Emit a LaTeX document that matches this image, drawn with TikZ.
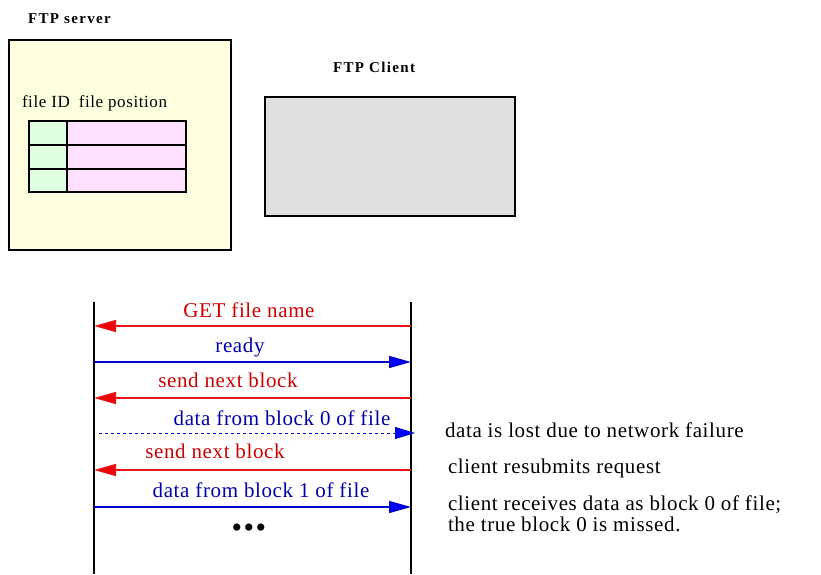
\documentclass[tikz,border=0pt]{standalone}
\usepackage{fontspec}
\setmainfont{Liberation Serif}
\usepackage{xcolor}
\usetikzlibrary{arrows.meta,positioning}

\begin{document}
\begin{tikzpicture}[
    x=1pt, y=-1pt,
    every node/.style={
        inner sep=0pt,
        outer sep=0pt
    },
    hostbox/.style={
        draw,
        rectangle,
        line width=2pt,
        anchor=north west
    },
    cell/.style={
        draw,
        rectangle,
        line width=2pt,
        minimum height=24pt,
        anchor=north west
    },
    hosttitle/.style={font=\fontsize{15}{18}\selectfont\bfseries\addfontfeatures{LetterSpace=9},
        anchor=base west},
    colhead/.style={font=\fontsize{17}{20}\selectfont\addfontfeatures{LetterSpace=3.5},
        anchor=base west},
    msg/.style={font=\fontsize{21}{24}\selectfont\addfontfeatures{LetterSpace=3}, anchor=base},
    note/.style={font=\fontsize{21}{21.5}\selectfont\addfontfeatures{LetterSpace=3},
        align=left},
    lifeline/.style={line width=2pt},
    reqarrow/.style={line width=1.5pt, draw=reqline,
        -{Triangle[length=22pt,width=12pt,fill=reqhead]}},
    dataarrow/.style={line width=1.5pt, draw=dataline,
        -{Triangle[length=22pt,width=12pt,fill=datahead]}},
    lostarrow/.style={line width=0.8pt, draw=dataline, dash pattern=on 3pt off 3pt,
        -{Triangle[length=20pt,width=12pt,fill=datahead]}}
]

%--- Color Definitions ---%
\definecolor{serverfill}{RGB}{255,255,224}
\definecolor{clientfill}{RGB}{224,224,224}
\definecolor{idfill}{RGB}{224,255,224}
\definecolor{posfill}{RGB}{255,224,255}
\definecolor{reqline}{RGB}{230,20,20}
\definecolor{reqhead}{RGB}{240,0,0}
\definecolor{reqtext}{RGB}{204,0,0}
\definecolor{dataline}{RGB}{0,0,200}
\definecolor{datahead}{RGB}{0,0,255}
\definecolor{datatext}{RGB}{0,0,170}

\useasboundingbox (0,0) rectangle (821,574);

%-----------------------------------------------
% HOSTS
%-----------------------------------------------
\node[hostbox, fill=serverfill, minimum width=222pt, minimum height=210pt]
    (server) at (9,40) {};
\node[hosttitle] (servertitle) at (28,23) {FTP server};

\node[hostbox, fill=clientfill, minimum width=250pt, minimum height=119pt]
    (client) at (265,97) {};
\node[hosttitle] (clienttitle) at (333,72) {FTP Client};

%-----------------------------------------------
% FILE TABLE
%-----------------------------------------------
\node[colhead] (tablehead) at (22,107) {file ID\hspace{9pt}file position};

\node[cell, fill=idfill,  minimum width=38pt]  (id1)  at (29,121) {};
\node[cell, fill=posfill, minimum width=119pt] (pos1) at (67,121) {};
\node[cell, fill=idfill,  minimum width=38pt]  (id2)  at (29,145) {};
\node[cell, fill=posfill, minimum width=119pt] (pos2) at (67,145) {};
\node[cell, fill=idfill,  minimum width=38pt, minimum height=23pt]  (id3)  at (29,169) {};
\node[cell, fill=posfill, minimum width=119pt, minimum height=23pt] (pos3) at (67,169) {};

%-----------------------------------------------
% LIFELINES
%-----------------------------------------------
\coordinate (srvtop) at (94,302);
\coordinate (srvbot) at (94,574);
\coordinate (clitop) at (411,302);
\coordinate (clibot) at (411,574);
\draw[lifeline] (srvtop) -- (srvbot);
\draw[lifeline] (clitop) -- (clibot);

%-----------------------------------------------
% MESSAGES
%-----------------------------------------------
\coordinate (srv1) at (94,326);  \coordinate (cli1) at (411,326);
\coordinate (srv2) at (94,362);  \coordinate (cli2) at (411,362);
\coordinate (srv3) at (94,398);  \coordinate (cli3) at (411,398);
\coordinate (srv4) at (99,433);  \coordinate (cli4) at (415,433);
\coordinate (srv5) at (94,470);  \coordinate (cli5) at (411,470);
\coordinate (srv6) at (94,507);  \coordinate (cli6) at (411,507);

\draw[reqarrow]  (cli1) -- (srv1);
\draw[dataarrow] (srv2) -- (cli2);
\draw[reqarrow]  (cli3) -- (srv3);
\draw[lostarrow] (srv4) -- (cli4);
\draw[reqarrow]  (cli5) -- (srv5);
\draw[dataarrow] (srv6) -- (cli6);

\node[msg, text=reqtext]  (getlbl)   at (249,317) {GET file name};
\node[msg, text=datatext] (readylbl) at (240,352) {ready};
\node[msg, text=reqtext]  (nextlbl1) at (228,387) {send next block};
\node[msg, text=datatext] (blk0lbl)  at (282,425) {data from block 0 of file};
\node[msg, text=reqtext]  (nextlbl2) at (215,458) {send next block};
\node[msg, text=datatext] (blk1lbl)  at (261,497) {data from block 1 of file};

\node[msg, font=\fontsize{30}{30}\selectfont] (dots) at (249,537)
    {\textbullet\hspace{1.5pt}\textbullet\hspace{1.5pt}\textbullet};

%-----------------------------------------------
% NOTES
%-----------------------------------------------
\node[note, anchor=base west] (lostnote)  at (445,437) {data is lost due to network failure};
\node[note, anchor=base west] (resubnote) at (448,473) {client resubmits request};
\node[note, anchor=north west] (missnote) at (448,495.5)
    {client receives data as block 0 of file;\\the true block 0 is missed.};

\end{tikzpicture}
\end{document}
